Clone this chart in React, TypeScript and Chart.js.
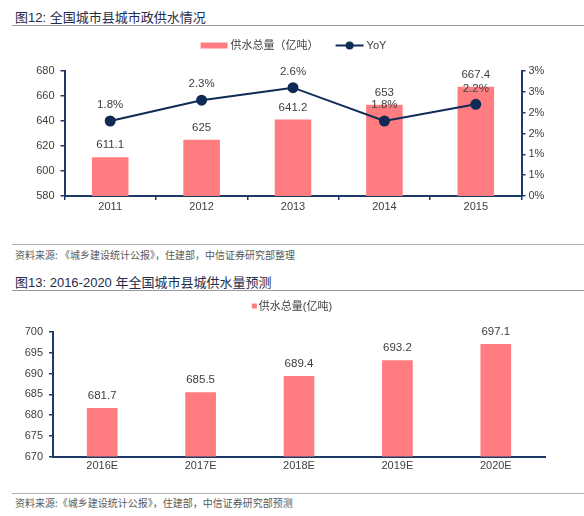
import React, { useEffect, useRef } from "react";
import { Chart, registerables } from "chart.js";

Chart.register(...registerables);

// ---------- data ----------
const years1 = ["2011", "2012", "2013", "2014", "2015"];
const supply1 = [611.1, 625, 641.2, 653, 667.4];
const yoy1 = [1.8, 2.3, 2.6, 1.8, 2.2];

const years2 = ["2016E", "2017E", "2018E", "2019E", "2020E"];
const supply2 = [681.7, 685.5, 689.4, 693.2, 697.1];

const title1 = "图12: 全国城市县城市政供水情况";
const title2 = "图13: 2016-2020 年全国城市县城供水量预测";
const source1 = "资料来源: 《城乡建设统计公报》，住建部，中信证券研究部整理";
const source2 = "资料来源:《城乡建设统计公报》，住建部，中信证券研究部预测";
const legendBar1 = "供水总量（亿吨）";
const legendLine1 = "YoY";
const legendBar2 = "供水总量(亿吨)";

// ---------- styles ----------
const PINK = "#FF7C80";
const NAVY = "#1B3A66";
const LINE = "#0F2B55";
const TEXT = "#404040";
const NUM_FONT = '"Liberation Sans", Arial, sans-serif';
const CJK_FONT = '"Noto Sans CJK SC", sans-serif';
const MIX_FONT = '"Liberation Sans", "Noto Sans CJK SC", sans-serif';

type LegendItem = { kind: "rect" | "line" | "square"; text: string };

function symbolWidth(kind: string) {
  if (kind === "rect") return 27;
  if (kind === "line") return 28;
  return 5;
}

function makeLegendPlugin(items: LegendItem[], cy: number, gapText: number, gapItem: number, shift: number) {
  return {
    id: "customLegend",
    afterDraw(chart: any) {
      const ctx = chart.ctx as CanvasRenderingContext2D;
      ctx.save();
      ctx.font = `11px ${MIX_FONT}`;
      ctx.textBaseline = "middle";
      ctx.textAlign = "left";
      const widths = items.map((it) => symbolWidth(it.kind) + gapText + ctx.measureText(it.text).width);
      const total = widths.reduce((a, b) => a + b, 0) + gapItem * (items.length - 1);
      let x = chart.width / 2 - total / 2 + shift;
      items.forEach((it, i) => {
        if (it.kind === "rect") {
          ctx.fillStyle = PINK;
          ctx.fillRect(x, cy - 3, 27, 6);
        } else if (it.kind === "square") {
          ctx.fillStyle = PINK;
          ctx.fillRect(x, cy - 2.5, 5, 5);
        } else {
          ctx.strokeStyle = LINE;
          ctx.lineWidth = 2;
          ctx.beginPath();
          ctx.moveTo(x, cy);
          ctx.lineTo(x + 28, cy);
          ctx.stroke();
          ctx.fillStyle = LINE;
          ctx.beginPath();
          ctx.arc(x + 14, cy, 4, 0, Math.PI * 2);
          ctx.fill();
        }
        ctx.fillStyle = TEXT;
        ctx.fillText(it.text, x + symbolWidth(it.kind) + gapText, cy + 0.5);
        x += widths[i] + gapItem;
      });
      ctx.restore();
    },
  };
}

const valueLabelPlugin = {
  id: "valueLabels",
  afterDatasetsDraw(chart: any) {
    const ctx = chart.ctx as CanvasRenderingContext2D;
    ctx.save();
    ctx.font = `11.5px ${NUM_FONT}`;
    ctx.fillStyle = TEXT;
    ctx.textAlign = "center";
    ctx.textBaseline = "middle";
    chart.data.datasets.forEach((ds: any, i: number) => {
      const meta = chart.getDatasetMeta(i);
      meta.data.forEach((el: any, j: number) => {
        const v = ds.data[j] as number;
        if (ds.type === "line") {
          ctx.fillText(v.toFixed(1) + "%", el.x, el.y - 16);
        } else {
          ctx.fillText(String(v), el.x, el.y - 12);
        }
      });
    });
    ctx.restore();
  },
};

const tickFont = { size: 11, family: NUM_FONT };

function ChartOne() {
  const ref = useRef<HTMLCanvasElement | null>(null);
  useEffect(() => {
    if (!ref.current) return;
    const chart = new Chart(ref.current, {
      type: "bar",
      data: {
        labels: years1,
        datasets: [
          {
            type: "bar",
            label: legendBar1,
            data: supply1,
            backgroundColor: PINK,
            yAxisID: "y",
            order: 1,
            barPercentage: 0.5,
            categoryPercentage: 0.8,
          } as any,
          {
            type: "line",
            label: legendLine1,
            data: yoy1,
            borderColor: LINE,
            backgroundColor: LINE,
            borderWidth: 2,
            pointRadius: 4.5,
            pointBackgroundColor: LINE,
            pointBorderColor: LINE,
            yAxisID: "y1",
            order: 0,
            tension: 0,
          } as any,
        ],
      },
      options: {
        responsive: false,
        animation: false,
        layout: { padding: { top: 41, left: 0, right: 0, bottom: 0 } },
        plugins: { legend: { display: false }, tooltip: { enabled: false } },
        scales: {
          x: {
            grid: { display: true, drawOnChartArea: false, drawTicks: true, tickLength: 4, color: NAVY, lineWidth: 1.5, offset: true },
            border: { display: true, color: NAVY, width: 2 },
            ticks: { color: TEXT, font: tickFont, padding: 0 },
            afterFit: (s: any) => { s.height = 34; },
          },
          y: {
            position: "left",
            min: 580,
            max: 680,
            ticks: { stepSize: 20, color: TEXT, font: tickFont, padding: 6 },
            grid: { drawOnChartArea: false, drawTicks: true, tickLength: 4, color: NAVY, lineWidth: 1.5 },
            border: { display: true, color: NAVY, width: 2 },
            afterFit: (s: any) => { s.width = 64.5; },
          },
          y1: {
            position: "right",
            min: 0,
            max: 3,
            ticks: {
              stepSize: 0.5,
              color: TEXT,
              font: tickFont,
              padding: 3,
              callback: (v: any) => Math.round(Number(v)) + "%",
            },
            grid: { drawOnChartArea: false, drawTicks: true, tickLength: 4, color: NAVY, lineWidth: 1.5 },
            border: { display: true, color: NAVY, width: 2 },
            afterFit: (s: any) => { s.width = 62.5; },
          },
        },
      } as any,
      plugins: [
        valueLabelPlugin,
        makeLegendPlugin(
          [
            { kind: "rect", text: legendBar1 },
            { kind: "line", text: legendLine1 },
          ],
          15.5,
          3,
          17,
          1.5
        ),
      ],
    });
    return () => chart.destroy();
  }, []);
  return <canvas ref={ref} width={584} height={200} style={{ position: "absolute", left: 0, top: 30 }} />;
}

function ChartTwo() {
  const ref = useRef<HTMLCanvasElement | null>(null);
  useEffect(() => {
    if (!ref.current) return;
    const chart = new Chart(ref.current, {
      type: "bar",
      data: {
        labels: years2,
        datasets: [
          {
            type: "bar",
            label: legendBar2,
            data: supply2,
            backgroundColor: PINK,
            barPercentage: 0.39,
            categoryPercentage: 0.8,
          } as any,
        ],
      },
      options: {
        responsive: false,
        animation: false,
        layout: { padding: { top: 41, left: 0, right: 39, bottom: 0 } },
        plugins: { legend: { display: false }, tooltip: { enabled: false } },
        scales: {
          x: {
            grid: { display: true, drawOnChartArea: false, drawTicks: false },
            border: { display: true, color: NAVY, width: 2 },
            ticks: { color: TEXT, font: tickFont, padding: 3 },
            afterFit: (s: any) => { s.height = 34.5; },
          },
          y: {
            position: "left",
            min: 670,
            max: 700,
            ticks: { stepSize: 5, color: TEXT, font: tickFont, padding: 6 },
            grid: { drawOnChartArea: false, drawTicks: true, tickLength: 4, color: NAVY, lineWidth: 1.5 },
            border: { display: true, color: NAVY, width: 2 },
            afterFit: (s: any) => { s.width = 53; },
          },
        },
      } as any,
      plugins: [
        valueLabelPlugin,
        makeLegendPlugin([{ kind: "square", text: legendBar2 }], 15, 2, 10, 0),
      ],
    });
    return () => chart.destroy();
  }, []);
  return <canvas ref={ref} width={584} height={200} style={{ position: "absolute", left: 0, top: 291 }} />;
}

export default function App() {
  const titleStyle: React.CSSProperties = {
    position: "absolute",
    left: 15,
    fontSize: 13,
    lineHeight: "16px",
    color: "#1f2d4d",
    whiteSpace: "nowrap",
    fontFamily: MIX_FONT,
  };
  const sourceStyle: React.CSSProperties = {
    position: "absolute",
    left: 15,
    fontSize: 10,
    lineHeight: "14px",
    color: "#595959",
    whiteSpace: "nowrap",
  };
  const rule = (top: number, color: string): React.CSSProperties => ({
    position: "absolute",
    left: 12,
    top,
    width: 572,
    height: 1,
    background: color,
  });
  return (
    <div
      style={{
        position: "absolute",
        left: 0,
        top: 0,
        width: 584,
        height: 516,
        background: "#ffffff",
        fontFamily: CJK_FONT,
        overflow: "hidden",
      }}
    >
      <div style={{ ...titleStyle, top: 10 }}>{title1}</div>
      <div style={rule(25, "#9a9a9a")} />
      <ChartOne />
      <div style={rule(244, "#b0b0b0")} />
      <div style={{ ...sourceStyle, top: 248 }}>{source1}</div>
      <div style={{ ...titleStyle, top: 275 }}>{title2}</div>
      <div style={rule(290, "#9a9a9a")} />
      <ChartTwo />
      <div style={rule(493, "#b0b0b0")} />
      <div style={{ ...sourceStyle, top: 496 }}>{source2}</div>
    </div>
  );
}
